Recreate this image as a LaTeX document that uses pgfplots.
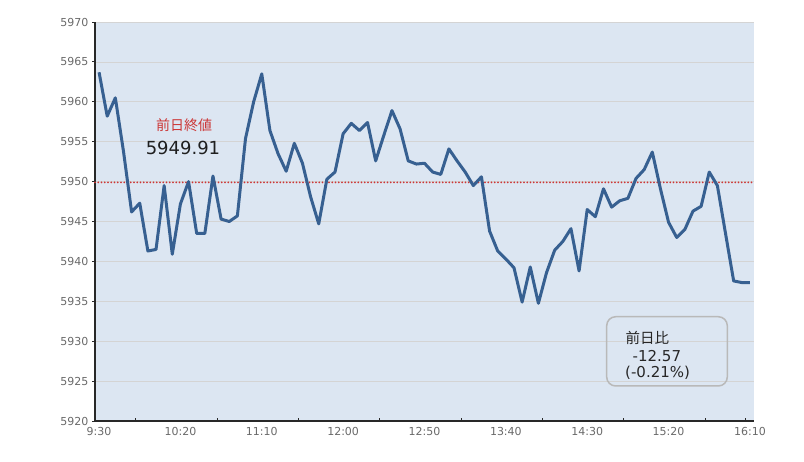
\documentclass[border=0pt]{standalone}
\usepackage{pgfplots}
\pgfplotsset{compat=1.18}
\usepackage{pgfplotstable}
\usepackage{fontspec}
\setmainfont{DejaVu Sans}
\newfontfamily\jp{Noto Sans CJK JP}

\definecolor{plotbg}{RGB}{220,230,242}
\definecolor{linec}{RGB}{55,96,145}
\definecolor{refred}{RGB}{204,55,55}
\definecolor{gridc}{RGB}{212,212,212}
\definecolor{tickc}{RGB}{105,105,105}
\definecolor{axisc}{RGB}{40,40,40}
\definecolor{boxc}{RGB}{185,185,185}

% index (5 min steps from 9:30), index level
\pgfplotstableread{
i  v
0  5963.7
1  5958.2
2  5960.5
3  5953.8
4  5946.2
5  5947.3
6  5941.3
7  5941.5
8  5949.5
9  5940.9
10 5947.2
11 5950.0
12 5943.5
13 5943.5
14 5950.7
15 5945.3
16 5945.0
17 5945.7
18 5955.4
19 5960.0
20 5963.5
21 5956.4
22 5953.5
23 5951.3
24 5954.8
25 5952.3
26 5948.1
27 5944.7
28 5950.3
29 5951.2
30 5956.0
31 5957.3
32 5956.4
33 5957.4
34 5952.6
35 5955.8
36 5958.9
37 5956.6
38 5952.6
39 5952.2
40 5952.3
41 5951.2
42 5950.9
43 5954.1
44 5952.6
45 5951.2
46 5949.5
47 5950.6
48 5943.8
49 5941.3
50 5940.3
51 5939.2
52 5934.9
53 5939.3
54 5934.75
55 5938.6
56 5941.4
57 5942.5
58 5944.1
59 5938.8
60 5946.5
61 5945.6
62 5949.1
63 5946.8
64 5947.6
65 5947.9
66 5950.4
67 5951.5
68 5953.7
69 5949.1
70 5944.9
71 5943.0
72 5944.0
73 5946.3
74 5946.9
75 5951.2
76 5949.5
77 5943.5
78 5937.55
79 5937.35
80 5937.34
}\index

\begin{document}
\begin{tikzpicture}
\useasboundingbox (0,0) rectangle (804bp,462bp);
\begin{axis}[
    at={(95bp,41bp)}, anchor=south west,
    width=659bp, height=399bp, scale only axis,
    xmin=-0.5, xmax=80.5,
    ymin=5920, ymax=5970,
    axis background/.style={fill=plotbg},
    axis x line=bottom, axis y line=left,
    axis line style={-, draw=axisc, line width=1.2bp},
    xtick={0,10,...,80},
    xticklabels={9:30,10:20,11:10,12:00,12:50,13:40,14:30,15:20,16:10},
    minor xtick={4.5,14.5,...,74.5,79.5},
    major x tick style={draw=none},
    minor x tick style={draw=axisc, line width=0.9bp},
    xtick align=inside,
    ytick={5920,5925,...,5970},
    ytick align=outside,
    major y tick style={draw=axisc, line width=0.9bp},
    major tick length=3bp, minor tick length=3bp,
    ymajorgrids,
    major grid style={draw=gridc, line width=0.8bp},
    tick label style={font=\fontsize{11bp}{13bp}\selectfont, text=tickc},
    xticklabel style={yshift=-3bp},
    /pgf/number format/assume math mode=true,
    /pgf/number format/1000 sep={},
    clip=false,
]
\addplot[refred, line width=1.9bp, line cap=round, dash pattern=on 0bp off 3.25bp] coordinates {(-0.5,5949.91) (80.5,5949.91)};
\addplot[linec, line width=3bp, line join=round] table[x=i, y=v] {\index};
\end{axis}

\node[text=refred, font=\jp\fontsize{14bp}{16bp}\selectfont] at (184bp,337bp) {前日終値};
\node[anchor=base, text=black!88, font=\fontsize{18bp}{20bp}\selectfont, inner sep=0pt] at (183bp,307bp) {5949.91};

\draw[boxc, line width=1.5bp, rounded corners=9bp] (606.7bp,76bp) rectangle (727.3bp,145.3bp);
\node[anchor=base west, inner sep=0pt, font=\jp\fontsize{14.5bp}{16bp}\selectfont, text=black!85] at (625.5bp,118.5bp) {前日比};
\node[anchor=base west, inner sep=0pt, font=\fontsize{15bp}{17bp}\selectfont, text=black!85] at (632.5bp,100.5bp) {-12.57};
\node[anchor=base west, inner sep=0pt, font=\fontsize{15bp}{17bp}\selectfont, text=black!85] at (625bp,84.5bp) {(-0.21\%)};
\end{tikzpicture}
\end{document}
